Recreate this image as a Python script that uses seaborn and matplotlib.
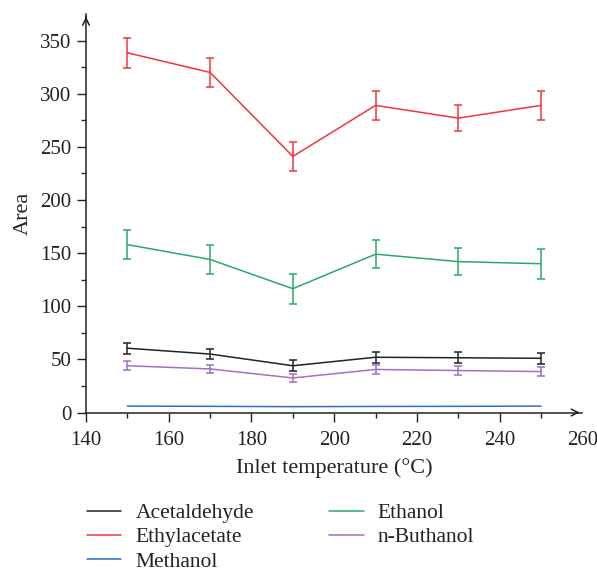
import numpy as np
import pandas as pd
import matplotlib
matplotlib.use("Agg")
import matplotlib.pyplot as plt
import seaborn as sns

temps = [150, 170, 190, 210, 230, 250]
series_names = ["Acetaldehyde", "Ethylacetate", "Methanol", "Ethanol", "n-Buthanol"]
acetaldehyde = [60.5, 55, 44, 52, 51.5, 51]
acetaldehyde_err = [5, 5, 5, 5, 5, 5]
ethylacetate = [338.5, 320, 241, 289, 277, 289]
ethylacetate_err = [14, 14, 14, 14, 12, 14]
methanol = [6, 5.8, 5.5, 5.7, 5.8, 6]
methanol_err = [0, 0, 0, 0, 0, 0]
ethanol = [158, 144, 116.5, 149, 142, 140]
ethanol_err = [14, 14, 14, 13, 13, 14]
nbuthanol = [44, 41, 32.5, 40.5, 39.5, 38.5]
nbuthanol_err = [4, 4, 4, 4, 4, 4]

colors = {"Acetaldehyde": "#222222", "Ethylacetate": "#f0353f",
          "Methanol": "#2f6fc8", "Ethanol": "#2ca868", "n-Buthanol": "#a36fc3"}

values = {"Acetaldehyde": (acetaldehyde, acetaldehyde_err),
          "Ethylacetate": (ethylacetate, ethylacetate_err),
          "Methanol": (methanol, methanol_err),
          "Ethanol": (ethanol, ethanol_err),
          "n-Buthanol": (nbuthanol, nbuthanol_err)}

rows = []
for name in series_names:
    v, e = values[name]
    for t, vi, ei in zip(temps, v, e):
        rows.append({"temp": t, "area": vi, "err": ei, "series": name})
df = pd.DataFrame(rows)

sns.set_style("ticks")
plt.rcParams["font.family"] = ["Liberation Serif", "DejaVu Serif"]

fig = plt.figure(figsize=(5.97, 5.75), dpi=100)
ax = fig.add_axes([86/597, 1-412.5/575, (582.4-86)/597, (412.5-14)/575])

sns.lineplot(data=df, x="temp", y="area", hue="series", hue_order=series_names,
             palette=colors, ax=ax, linewidth=1.1, legend=True)

for name in series_names:
    sub = df[df.series == name]
    if sub["err"].max() > 0:
        ax.errorbar(sub["temp"], sub["area"], yerr=sub["err"], fmt="none",
                    ecolor=colors[name], elinewidth=1.1, capsize=3, capthick=1.1)

ax.set_xlim(140, 260)
ax.set_ylim(0, 375)
ax.set_xticks(np.arange(140, 261, 20))
ax.set_yticks(np.arange(0, 351, 50))
ax.set_xticks([t for t in np.arange(150, 251, 10) if t % 20 != 0], minor=True)
ax.set_yticks([t for t in np.arange(25, 351, 50)], minor=True)
ax.tick_params(axis="both", which="major", length=6.5, width=1, labelsize=15,
               color="#222222", labelcolor="#222222", pad=4)
ax.tick_params(axis="x", which="major", pad=6.5)
ax.tick_params(axis="both", which="minor", length=3.5, width=1, color="#222222")
ax.xaxis.get_major_ticks()[-1].tick1line.set_visible(False)

for s in ["top", "right"]:
    ax.spines[s].set_visible(False)
for s in ["left", "bottom"]:
    ax.spines[s].set_linewidth(1.1)
    ax.spines[s].set_color("#222222")

ax.annotate("", xy=(1.0, 0), xytext=(0.985, 0), xycoords="axes fraction",
            arrowprops=dict(arrowstyle="->", color="#222222", lw=1.1, mutation_scale=12))
ax.annotate("", xy=(0, 1.0), xytext=(0, 0.985), xycoords="axes fraction",
            arrowprops=dict(arrowstyle="->", color="#222222", lw=1.1, mutation_scale=12))

ax.set_xlabel("Inlet temperature (°C)", fontsize=16, color="#222222", labelpad=6)
ax.set_ylabel("Area", fontsize=16, color="#222222", labelpad=5)

handles, labels = ax.get_legend_handles_labels()
ax.legend_.remove()
leg = fig.legend(handles, labels, loc="upper left", bbox_to_anchor=(87/597, 1-503/575),
                 ncol=2, frameon=False, fontsize=15.5, handlelength=1.6,
                 columnspacing=3.5, labelspacing=0.2, handletextpad=0.65,
                 borderpad=0, borderaxespad=0)
for t in leg.get_texts():
    t.set_color("#222222")

fig.savefig("out.png", dpi=100)
